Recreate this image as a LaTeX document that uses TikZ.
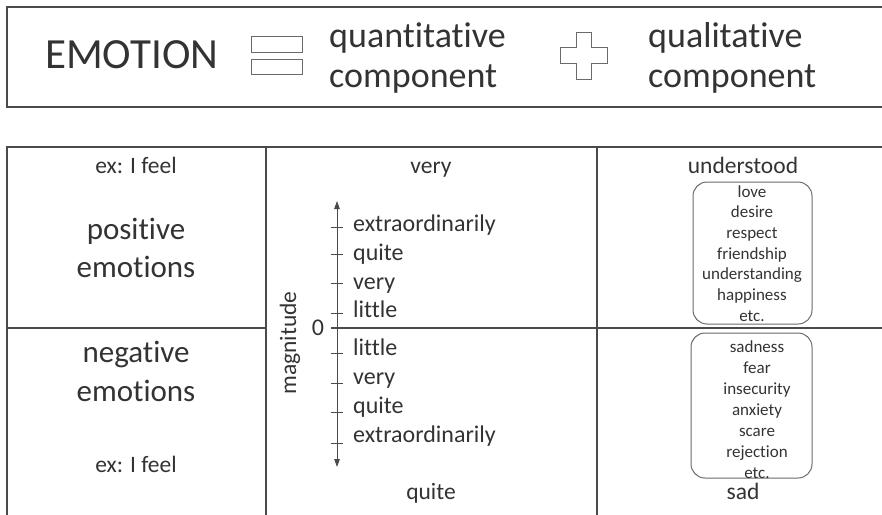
\documentclass[tikz,border=0pt]{standalone}
\usepackage{fontspec}
\setmainfont{Carlito}[RawFeature={-liga;-clig;-dlig}]
\usetikzlibrary{arrows.meta}
\definecolor{txt}{HTML}{333333}
\definecolor{ln}{HTML}{4A4A4A}
\definecolor{sym}{HTML}{6A6A6A}
\tikzset{
  lbl/.style={inner sep=0pt, text=txt},
  big/.style={lbl, font=\fontsize{43}{48}\selectfont},
  comp/.style={lbl, font=\fontsize{36}{40}\selectfont, anchor=base west},
  cat/.style={lbl, font=\fontsize{31}{37}\selectfont, anchor=base},
  hdr/.style={lbl, font=\fontsize{23.5}{28}\selectfont, anchor=base},
  axlbl/.style={lbl, font=\fontsize{24}{28}\selectfont, anchor=base west},
  item/.style={lbl, font=\fontsize{17}{20}\selectfont, anchor=base},
  grid/.style={draw=ln, line width=1.6pt},
  ebox/.style={draw=sym, line width=1pt, rounded corners=14pt, inner sep=0pt},
  symb/.style={draw=sym, line width=1pt},
}
\begin{document}
\begin{tikzpicture}[x=1pt,y=-1pt]
\useasboundingbox (0,0) rectangle (882,514);
\begin{scope}
\clip (0,0) rectangle (882,514);
% top box
\draw[grid, line width=1.3pt] (900,7) -- (7,7) -- (7,107) -- (900,107);
% table
\draw[grid] (900,147) -- (7,147) -- (7,530);
\draw[grid] (266,147) -- (266,530);
\draw[grid] (597,147) -- (597,530);
\draw[grid] (7,328) -- (266,328);
\draw[grid] (331,328) -- (900,328);
\end{scope}

% equation
\node[big, anchor=base west] (emotion) at (45,68) {EMOTION};
\draw[symb] (251,36) rectangle (302,52);
\draw[symb] (251,59) rectangle (302,74);
\node[comp] (quant1) at (329,47) {quantitative};
\node[comp] (quant2) at (329,87) {component};
\draw[symb] (576,32) -- (591,32) -- (591,47) -- (607,47) -- (607,63) -- (591,63) -- (591,79)
  -- (576,79) -- (576,63) -- (560,63) -- (560,47) -- (576,47) -- cycle;
\node[comp] (qual1) at (648,47) {qualitative};
\node[comp] (qual2) at (648,87) {component};

% left column
\node[hdr] (ex1) at (136,173) {ex: I feel};
\node[cat] (pos1) at (136,239) {positive};
\node[cat] (pos2) at (136,277) {emotions};
\node[cat] (neg1) at (136,362) {negative};
\node[cat] (neg2) at (136,401) {emotions};
\node[hdr] (ex2) at (136,472) {ex: I feel};

% middle column
\node[hdr] (very) at (431,173) {very};
\node[hdr] (quite) at (431,499) {quite};
\coordinate (atop) at (337,201);
\coordinate (abot) at (337,467);
\draw[ln, line width=0.9pt, {Triangle[length=8pt,width=5.5pt]}-{Triangle[length=8pt,width=5.5pt]}] (atop) -- (abot);
\foreach \t in {227,254,283,313,353,383,412,443}
  \draw[ln, line width=0.8pt] (331,\t) -- (343,\t);
\node[axlbl] (u1) at (353,231) {extraordinarily};
\node[axlbl] (u2) at (353,260) {quite};
\node[axlbl] (u3) at (353,289) {very};
\node[axlbl] (u4) at (353,317) {little};
\node[axlbl] (l1) at (353,355) {little};
\node[axlbl] (l2) at (353,384) {very};
\node[axlbl] (l3) at (353,413) {quite};
\node[axlbl] (l4) at (353,442) {extraordinarily};
\node[axlbl, anchor=base] (zero) at (318,335) {0};
\node[lbl, font=\fontsize{23.5}{28}\selectfont, rotate=90] (mag) at (290,343) {magnitude};

% right column
\node[hdr] (und) at (743,173) {understood};
\node[hdr] (sad) at (743,499) {sad};
\node[ebox, minimum width=119pt, minimum height=142pt] (posbox) at (752.5,253) {};
\node[ebox, minimum width=121pt, minimum height=145pt] (negbox) at (751.5,405.5) {};
\foreach \w [count=\i from 0] in {love,desire,respect,friendship,understanding,happiness,etc.}
  \node[item] (p\i) at (752,197+20.7*\i) {\w};
\foreach \w [count=\i from 0] in {sadness,fear,insecurity,anxiety,scare,rejection,etc.}
  \node[item] (n\i) at (757,352+21*\i) {\w};
\end{tikzpicture}
\end{document}
